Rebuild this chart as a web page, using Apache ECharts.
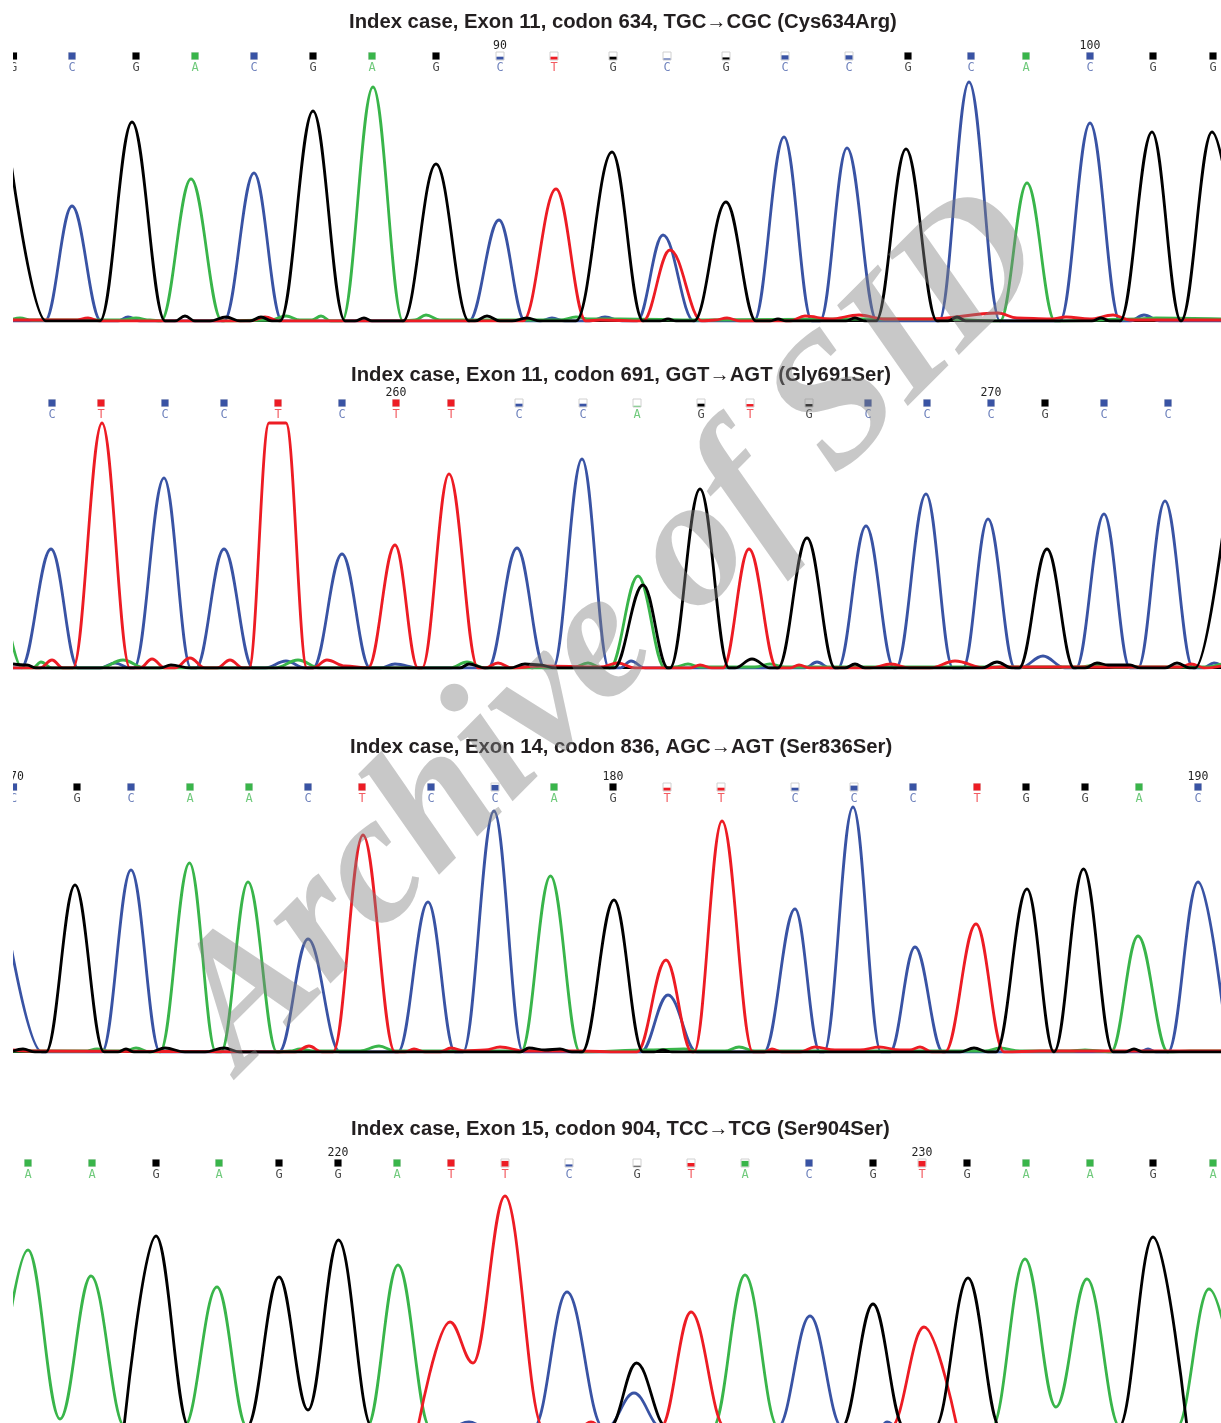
<!DOCTYPE html>
<html><head><meta charset="utf-8">
<style>html,body{margin:0;padding:0;background:#fff}#c{width:1221px;height:1423px}</style>
<script src="https://cdn.jsdelivr.net/npm/echarts@6/dist/echarts.min.js"></script>
</head><body><div id="c"></div>
<script>
const titles = [
  "Index case, Exon 11, codon 634, TGC→CGC (Cys634Arg)",
  "Index case, Exon 11, codon 691, GGT→AGT (Gly691Ser)",
  "Index case, Exon 14, codon 836, AGC→AGT (Ser836Ser)",
  "Index case, Exon 15, codon 904, TCC→TCG (Ser904Ser)"
];
// Base calls: position, letter, quality-bar fill, tick numbers
const p1Pos = [13.5,72,136,195,254,313,372,436,500,554,613,667,726,785,849,908,971,1026,1090,1153,1213];
const p1Seq = "GCGACGAGCTGCGCCGCACGG";
const p1Qual = [1,1,1,1,1,1,1,1,.4,.4,.4,.15,.3,.6,.6,1,1,1,1,1,1];
const p1Ticks = {8:"90",18:"100"};
const p2Pos = [52,101,165,224,278,342,396,451,519,583,637,701,750,809,868,927,991,1045,1104,1168];
const p2Seq = "CTCCTCTTCCAGTGCCCGCC";
const p2Qual = [1,1,1,1,1,1,1,1,.4,.4,.1,.4,.35,.35,1,1,1,1,1,1];
const p2Ticks = {6:"260",16:"270"};
const p3Pos = [13.5,77,131,190,249,308,362,431,495,554,613,667,721,795,854,913,977,1026,1085,1139,1198];
const p3Seq = "CGCAACTCCAGTTCCCTGGAC";
const p3Qual = [1,1,1,1,1,1,1,1,.8,1,1,.4,.4,.4,.7,1,1,1,1,1,1];
const p3Ticks = {0:"170",10:"180",20:"190"};
const p4Pos = [28,92,156,219,279,338,397,451,505,569,637,691,745,809,873,922,967,1026,1090,1153,1213];
const p4Seq = "AAGAGGATTCGTACGTGAAGA";
const p4Qual = [1,1,1,1,1,1,1,1,.8,.3,.1,.5,.8,1,1,.8,1,1,1,1,1];
const p4Ticks = {5:"220",15:"230"};

// Traces: [scan position, signal]
const p1Blue = [[13,0],[45,0],[72,115],[101,0],[118,0],[128,4],[140,0],[224,0],[254,148],[282,0],[469,0],[499,101],[525,0],[540,0],[552,3],[565,0],[590,0],[605,4],[622,0],[637,0],[663,86],[694,0],[754,0],[784,184],[812,0],[820,0],[847,173],[877,0],[939,0],[969,239],[1000,0],[1060,0],[1090,198],[1120,0],[1130,0],[1144,6],[1160,0],[1221,0]];
const p1Green = [[13,2],[20,3],[32,1],[120,1],[136,3],[150,1],[161,0],[191,142],[222,0],[270,1],[286,5],[300,1],[312,1],[321,5],[331,0],[342,0],[373,234],[403,0],[415,1],[426,6],[440,1],[560,1],[576,4],[590,2],[620,2],[700,1],[860,2],[937,2],[1000,0],[1027,138],[1055,0],[1140,2],[1156,3],[1221,2]];
const p1Red = [[13,1],[75,1],[88,3],[100,0],[250,0],[265,4],[280,0],[523,0],[556,132],[586,0],[600,1],[643,0],[670,71],[702,0],[715,1],[727,3],[740,0],[790,0],[805,5],[830,2],[859,6],[885,2],[930,2],[998,8],[1017,3],[1050,2],[1066,4],[1090,2],[1113,6],[1130,1],[1221,1]];
const p1Black = [[9,172],[46,0],[100,0],[132,199],[165,0],[175,0],[185,5],[195,0],[210,0],[226,4],[240,0],[250,0],[261,4],[272,0],[280,0],[313,210],[345,0],[355,0],[364,3],[372,0],[403,0],[436,157],[469,0],[475,0],[487,5],[500,0],[512,0],[527,3],[540,0],[576,0],[612,169],[643,0],[660,0],[668,2],[676,0],[694,0],[726,119],[756,0],[770,0],[778,2],[786,0],[846,0],[855,3],[865,0],[876,0],[906,172],[937,0],[948,0],[957,4],[966,0],[1092,0],[1101,3],[1110,0],[1120,0],[1152,189],[1181,0],[1212,189],[1245,0]];

const p2Blue = [[13,0],[21,0],[51,119],[78,0],[100,0],[115,5],[130,0],[134,0],[164,190],[191,0],[196,0],[224,119],[253,0],[265,0],[286,7],[305,0],[313,0],[342,114],[370,0],[380,0],[395,4],[420,0],[488,0],[517,120],[545,0],[553,0],[582,209],[609,0],[620,0],[631,7],[645,0],[805,0],[817,6],[830,0],[838,0],[866,142],[894,0],[896,0],[926,174],[953,0],[963,0],[988,149],[1015,0],[1020,0],[1043,12],[1065,0],[1076,0],[1104,154],[1130,0],[1138,0],[1165,167],[1193,0],[1203,0],[1214,5],[1221,3]];
const p2Red = [[13,0],[40,0],[52,8],[63,0],[73,0],[102,245],[130,0],[140,0],[152,9],[165,0],[175,0],[190,10],[205,0],[217,0],[230,8],[243,0],[249,0],[269,245],[286,245],[307,0],[313,0],[327,8],[345,2],[368,0],[395,123],[418,0],[422,0],[449,194],[478,0],[485,0],[498,5],[512,0],[540,2],[600,1],[618,5],[635,0],[690,0],[700,3],[712,0],[723,0],[749,119],[777,0],[790,0],[799,3],[810,0],[870,0],[891,4],[910,0],[930,0],[955,7],[985,0],[1000,1],[1180,1],[1191,4],[1205,0],[1221,2]];
const p2Green = [[5,60],[22,0],[33,0],[41,6],[52,0],[100,0],[123,8],[145,0],[275,0],[298,8],[320,0],[450,0],[467,6],[485,0],[572,0],[588,5],[602,0],[610,0],[638,92],[665,0],[675,1],[688,4],[700,1],[755,1],[770,4],[785,1],[1080,1],[1097,3],[1115,1],[1205,1],[1221,4]];
const p2Black = [[13,4],[27,3],[36,0],[160,0],[171,3],[190,0],[460,0],[469,4],[485,0],[510,0],[525,4],[540,3],[555,0],[614,0],[643,83],[668,0],[670,0],[700,179],[729,0],[735,0],[752,9],[770,0],[778,0],[807,130],[835,0],[845,0],[855,4],[865,0],[982,0],[997,6],[1012,0],[1019,0],[1047,119],[1074,0],[1085,0],[1097,5],[1108,3],[1130,3],[1140,0],[1165,0],[1177,5],[1190,0],[1195,0],[1228,175]];

const p3Blue = [[0,170],[42,0],[102,0],[131,182],[160,0],[279,0],[308,113],[340,0],[398,0],[428,150],[455,0],[463,0],[494,241],[523,0],[641,0],[668,57],[697,0],[764,0],[795,143],[820,0],[824,0],[853,245],[881,0],[890,0],[915,105],[943,0],[1140,0],[1148,3],[1156,0],[1168,0],[1198,170],[1228,0]];
const p3Green = [[13,1],[85,1],[97,3],[110,1],[125,1],[136,4],[150,0],[160,0],[189.5,189],[216,0],[221,0],[248,170],[277,0],[290,1],[300,3],[315,1],[360,1],[379,6],[395,1],[420,1],[510,1],[521,0],[550.5,176],[580,0],[650,2],[684,3],[700,1],[725,1],[739,5],[755,1],[985,1],[1000,4],[1020,1],[1070,1],[1085,2],[1100,1],[1111,0],[1138,116],[1168,0],[1190,1],[1221,1]];
const p3Red = [[13,2],[30,1],[295,0],[309,6],[322,0],[333,0],[363,217],[395,0],[405,0],[414,3],[425,0],[440,0],[451,4],[465,1],[485,2],[500,5],[525,1],[580,1],[620,0],[637,0],[666,92],[692,0],[694,0],[722,231],[753,0],[765,0],[772,3],[782,0],[800,0],[815,5],[835,2],[860,2],[879,5],[900,2],[910,2],[920,5],[932,0],[945,0],[976,128],[1004,0],[1040,1],[1221,1]];
const p3Black = [[13,1],[23,3],[35,0],[46,0],[75,167],[104,0],[118,0],[126,3],[134,0],[150,0],[165,4],[185,0],[205,0],[224,4],[240,0],[520,0],[529,4],[545,2],[560,3],[572,0],[582,0],[614,152],[643,0],[654,0],[663,2],[672,0],[960,0],[974,4],[988,0],[996,0],[1027,163],[1054,0],[1083.5,183],[1113,0],[1125,0],[1134,3],[1143,0],[1221,0]];

const p4Blue = [[455,0],[469,5],[485,0],[534,0],[567,135],[603,0],[607,0],[634,34],[661,0],[778,0],[810,111],[842,0],[880,0],[887,5],[895,0]];
const p4Green = [[-3,20],[28,177],[60,8],[91,151],[125,0],[184,0],[217,140],[247,0],[367,0],[398,162],[430,0],[713,0],[745,152],[778,0],[992,0],[1025,168],[1056,20],[1087,148],[1120,0],[1177,0],[1209,138],[1243,0]];
const p4Red = [[418,0],[450,105],[473,64],[505,231],[543,0],[580,0],[591,5],[602,0],[661,0],[691,115],[725,0],[891,0],[924,100],[957,0]];
const p4Black = [[124,0],[156,191],[189,0],[247,0],[279,150],[308,17],[338.5,187],[372,0],[610,0],[636.5,64],[666.5,0],[842,0],[873,123],[904,0],[935,0],[968,149],[1000,0],[1119,0],[1153,190],[1187,0]];

const COL = {C:'#3953a4', G:'#000000', A:'#39b54a', T:'#ed1c24'};
const panels = [
  {title:titles[0], titleX:349, titleY:12,  top:35,   baseY:321,  markY:56,   min:0, pos:p1Pos, seq:p1Seq, q:p1Qual, ticks:p1Ticks, tr:[p1Blue,p1Green,p1Red,p1Black], axis:true},
  {title:titles[1], titleX:351, titleY:365, top:384,  baseY:668,  markY:403,  min:0, pos:p2Pos, seq:p2Seq, q:p2Qual, ticks:p2Ticks, tr:[p2Blue,p2Green,p2Red,p2Black], axis:true},
  {title:titles[2], titleX:350, titleY:737, top:767,  baseY:1052, markY:787,  min:0, pos:p3Pos, seq:p3Seq, q:p3Qual, ticks:p3Ticks, tr:[p3Blue,p3Green,p3Red,p3Black], axis:true},
  {title:titles[3], titleX:351, titleY:1119,top:1144, baseY:1427, markY:1163, min:4, pos:p4Pos, seq:p4Seq, q:p4Qual, ticks:p4Ticks, tr:[p4Blue,p4Green,p4Red,p4Black], axis:false}
];
const traceCols = [COL.C, COL.A, COL.T, COL.G];
const monoFont = '"DejaVu Sans Mono", monospace';

const grid=[], xAxis=[], yAxis=[], series=[], title=[];
panels.forEach((p,k)=>{
  const bottomPx = p.axis ? p.baseY : 1423;
  grid.push({left:13, right:0, top:p.top, height:bottomPx-p.top});
  xAxis.push({gridIndex:k, type:'value', min:13, max:1221, show:p.axis, splitLine:{show:false},
    axisLine:{show:p.axis, onZero:false, lineStyle:{color:'#000', width:2}}, axisTick:{show:false}, axisLabel:{show:false}});
  yAxis.push({gridIndex:k, type:'value', min:p.min, max:p.baseY-p.top, show:false, splitLine:{show:false}});
  title.push({text:p.title, left:p.titleX, top:p.titleY, padding:0,
    textStyle:{fontFamily:'"Liberation Sans", Arial, sans-serif', fontWeight:'bold', fontSize:20.3, color:'#231f20'}});
  p.tr.forEach((d,j)=>series.push({type:'line', xAxisIndex:k, yAxisIndex:k, data:d, showSymbol:false, symbol:'none',
    smooth:0.38, smoothMonotone:'x', clip:true, animation:false, z:2+j, silent:true,
    lineStyle:{color:traceCols[j], width:2.8, join:'round'}}));
  const rowVal = p.baseY - p.markY;
  series.push({type:'custom', xAxisIndex:k, yAxisIndex:k, clip:true, animation:false, silent:true, z:8,
    data:p.pos.map((x,i)=>[x,rowVal,i]),
    encode:{x:0,y:1},
    renderItem:(params,api)=>{
      const i=api.value(2), c=api.coord([api.value(0),api.value(1)]), L=p.seq[i], q=p.q[i], col=COL[L];
      const w=7,h=7,cx=c[0],cy=c[1];
      const ch=[
        {type:'rect',shape:{x:cx-w/2-.5,y:cy-h/2-.5,width:w+1,height:h+1},style:{fill:q<1?'#fff':'#e4e4e4',stroke:q<1?'#d0d0d0':null,lineWidth:q<1?1:0}},
        {type:'rect',shape:{x:cx-w/2,y:cy+h/2-h*q,width:w,height:h*q},style:{fill:col}},
        {type:'text',x:cx,y:cy+12,style:{text:L,font:'12px '+monoFont,fill:col,opacity:.72,textAlign:'center',textVerticalAlign:'middle'}}
      ];
      if(p.ticks[i]) ch.push({type:'text',x:cx,y:cy-10,style:{text:p.ticks[i],font:'11.5px '+monoFont,fill:'#222',textAlign:'center',textVerticalAlign:'middle'}});
      return {type:'group',children:ch};
    }});
});
const chart=echarts.init(document.getElementById('c'),null,{renderer:'canvas',width:1221,height:1423});
chart.setOption({animation:false, backgroundColor:'#fff', title, grid, xAxis, yAxis, series,
  graphic:[
   {type:'rect', shape:{x:0,y:34,width:13,height:1389}, z:50, silent:true, style:{fill:'#fff'}},
   {type:'text', x:272, y:1105, rotation:45*Math.PI/180, z:100, silent:true,
    style:{text:'Archive of SID', font:'italic bold 185px "Liberation Serif", serif', fill:'rgba(130,130,130,0.44)', textAlign:'left', textVerticalAlign:'bottom'}}]
});
</script></body></html>
